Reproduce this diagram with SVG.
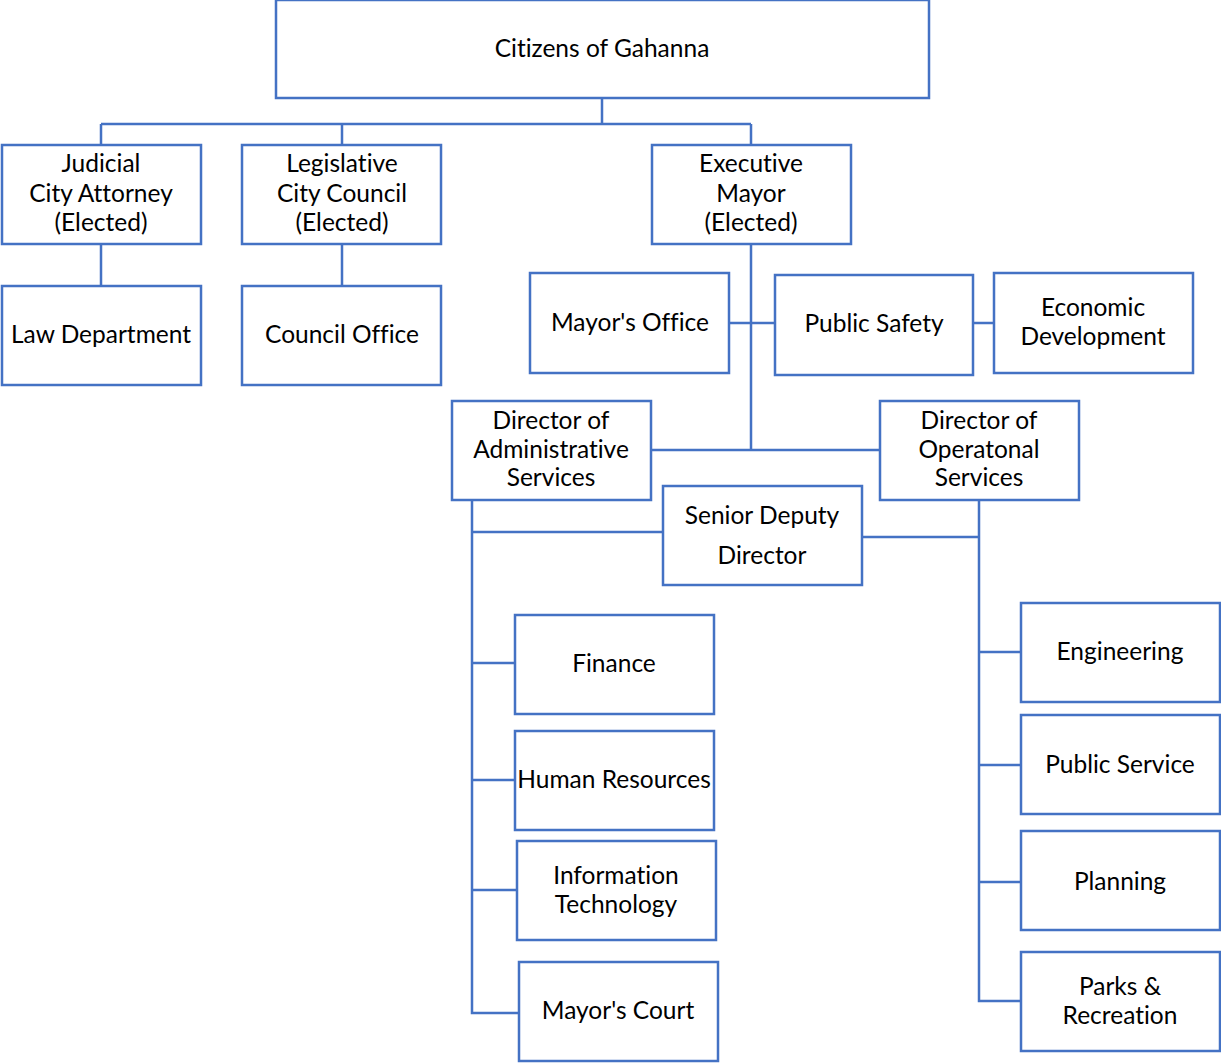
<svg xmlns="http://www.w3.org/2000/svg" width="1221" height="1063" viewBox="0 0 1221 1063">
<style>
.box{fill:#fff;stroke:#4472C4;stroke-width:2.5}
.ln{fill:none;stroke:#4472C4;stroke-width:2.5}
text{font-family:Lato,"Open Sans","Liberation Sans",sans-serif;font-size:24.5px;fill:#000;text-anchor:middle;dominant-baseline:central;font-variant-ligatures:none;font-feature-settings:"liga" 0,"dlig" 0}
</style>
<rect width="1221" height="1063" fill="#fff"/>
<g id="connectors">
<path class="ln" d="M602 98V124M101 124H751M101 124V145M342 124V145M751 124V145"/>
<path class="ln" d="M101 244V286M342 244V286"/>
<path class="ln" d="M751 244V450M729 323H751M973 323H994M651 450H880"/>
<path class="ln" d="M751 323H775" stroke-width="5"/>
<path class="ln" d="M472 500V1013H519M472 532H663M472 663H515M472 780H515M472 890H517"/>
<path class="ln" d="M979 500V1001H1021M862 537H979M979 652H1021M979 765H1021M979 882H1021"/>
</g>
<g id="citizens"><rect class="box" x="276" y="0" width="653" height="98"/><text x="602" y="47">Citizens of Gahanna</text></g>
<g id="judicial"><rect class="box" x="2" y="145" width="199" height="99"/><text x="101" y="162">Judicial</text><text x="101" y="192">City Attorney</text><text x="101" y="221">(Elected)</text></g>
<g id="legislative"><rect class="box" x="242" y="145" width="199" height="99"/><text x="342" y="162">Legislative</text><text x="342" y="192">City Council</text><text x="342" y="221">(Elected)</text></g>
<g id="executive"><rect class="box" x="652" y="145" width="199" height="99"/><text x="751" y="162">Executive</text><text x="751" y="192">Mayor</text><text x="751" y="221">(Elected)</text></g>
<g id="law"><rect class="box" x="2" y="286" width="199" height="99"/><text x="101" y="333">Law Department</text></g>
<g id="council-office"><rect class="box" x="242" y="286" width="199" height="99"/><text x="342" y="333">Council Office</text></g>
<g id="mayors-office"><rect class="box" x="530" y="273" width="199" height="100"/><text x="630" y="321">Mayor's Office</text></g>
<g id="public-safety"><rect class="box" x="775" y="275" width="198" height="100"/><text x="874" y="322">Public Safety</text></g>
<g id="economic"><rect class="box" x="994" y="273" width="199" height="100"/><text x="1093" y="306">Economic</text><text x="1093" y="335">Development</text></g>
<g id="dir-admin"><rect class="box" x="452" y="401" width="199" height="99"/><text x="551" y="419">Director of</text><text x="551" y="448">Administrative</text><text x="551" y="476">Services</text></g>
<g id="dir-ops"><rect class="box" x="880" y="401" width="199" height="99"/><text x="979" y="419">Director of</text><text x="979" y="448">Operatonal</text><text x="979" y="476">Services</text></g>
<g id="senior-deputy"><rect class="box" x="663" y="486" width="199" height="99"/><text x="762" y="514">Senior Deputy</text><text x="762" y="554">Director</text></g>
<g id="finance"><rect class="box" x="515" y="615" width="199" height="99"/><text x="614" y="662">Finance</text></g>
<g id="hr"><rect class="box" x="515" y="731" width="199" height="99"/><text x="614" y="778">Human Resources</text></g>
<g id="it"><rect class="box" x="517" y="841" width="199" height="99"/><text x="616" y="874">Information</text><text x="616" y="903">Technology</text></g>
<g id="mayors-court"><rect class="box" x="519" y="962" width="199" height="99"/><text x="618" y="1009">Mayor's Court</text></g>
<g id="engineering"><rect class="box" x="1021" y="603" width="199" height="99"/><text x="1120" y="650">Engineering</text></g>
<g id="public-service"><rect class="box" x="1021" y="715" width="199" height="99"/><text x="1120" y="763">Public Service</text></g>
<g id="planning"><rect class="box" x="1021" y="831" width="199" height="99"/><text x="1120" y="880">Planning</text></g>
<g id="parks"><rect class="box" x="1021" y="952" width="199" height="99"/><text x="1120" y="985">Parks &amp;</text><text x="1120" y="1014">Recreation</text></g>
</svg>
